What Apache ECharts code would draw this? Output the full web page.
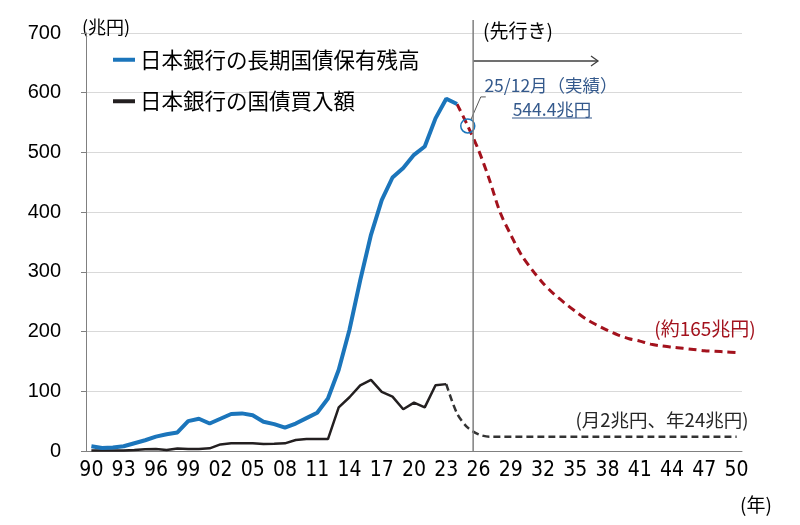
<!DOCTYPE html>
<html>
<head>
<meta charset="utf-8">
<script src="https://cdn.jsdelivr.net/npm/echarts@6/dist/echarts.min.js"></script>
<style>
html, body { margin: 0; padding: 0; background: #fff; }
#main { width: 800px; height: 525px; }
</style>
</head>
<body>
<div id="main"></div>
<script>
// categories: 1990 - 2050 (年)
var years = [];
for (var y = 1990; y <= 2050; y++) years.push(String(y));

// 日本銀行の長期国債保有残高 (兆円), 実績 1990 - 2024
var holdActual = [8, 5, 6, 8, 13, 18, 24, 28, 31, 50,
    54, 46, 54, 62, 63, 60, 49, 45, 39, 46,
    55, 64, 88, 136, 203, 286, 362, 420, 458, 474,
    496, 510, 557, 590, 581];
// 見通し 2024 - 2050
var holdForecast = [581, 544.4, 504, 455, 400, 362, 328, 303, 281, 263,
    248, 234, 221, 211, 202, 194, 188, 184, 179, 176,
    174, 172, 170, 168, 167, 166, 165];

// 日本銀行の国債買入額 (兆円), 実績 1990 - 2023
var buyActual = [1, 1, 1, 1, 1.5, 3, 3.4, 1.7, 4, 3.5,
    3.5, 4.5, 11, 12.8, 12.8, 12.8, 11.7, 12, 12.8, 18.4,
    20, 20, 20, 73, 90, 110, 119, 99, 91, 70,
    81, 73, 110, 112];
// 見通し 2023 - 2050 (月2兆円、年24兆円)
var buyForecast = [112, 63, 39, 28, 24, 24, 24, 24, 24, 24,
    24, 24, 24, 24, 24, 24, 24, 24, 24, 24,
    24, 24, 24, 24, 24, 24, 24, 24];

var holdForecastStart = '2024';
var buyForecastStart = '2023';
var markYear = '2025';
var markValue = 544.4;

var yTicks = [0, 100, 200, 300, 400, 500, 600, 700];

function toPairs(values, startYear) {
    var off = years.indexOf(startYear);
    return values.map(function (v, i) { return [off + i, v]; });
}

var numFont = "'Liberation Sans Narrow', 'DejaVu Sans Condensed', sans-serif";
var jpFont = "'Noto Sans CJK JP', sans-serif";

var chart = echarts.init(document.getElementById('main'));

var option = {
    animation: false,
    grid: {
        left: 86,
        right: 58,
        top: 33,
        bottom: 74,
        containLabel: false,
        outerBoundsMode: 'none'
    },
    legend: {
        data: ['日本銀行の長期国債保有残高', '日本銀行の国債買入額'],
        orient: 'vertical',
        left: 113,
        top: 49,
        padding: 0,
        itemWidth: 22,
        itemHeight: 4,
        itemGap: 20,
        icon: 'rect',
        selectedMode: false,
        textStyle: {
            fontFamily: jpFont,
            fontSize: 21.5,
            color: '#000'
        }
    },
    xAxis: {
        type: 'category',
        data: years,
        boundaryGap: true,
        axisLine: { lineStyle: { color: '#808080', width: 1 } },
        axisTick: {
            interval: 2,
            length: 6,
            alignWithLabel: false,
            lineStyle: { color: '#808080' }
        },
        axisLabel: {
            interval: 2,
            margin: 9,
            color: '#000',
            fontSize: 21,
            fontFamily: numFont,
            formatter: function (v) { return v.slice(2); }
        },
        splitLine: { show: false }
    },
    yAxis: {
        type: 'value',
        min: yTicks[0],
        max: yTicks[yTicks.length - 1],
        interval: 100,
        axisLine: { show: true, lineStyle: { color: '#808080', width: 1 } },
        axisTick: { show: true, length: 5, lineStyle: { color: '#808080' } },
        axisLabel: {
            margin: 25,
            color: '#000',
            fontSize: 20,
            fontFamily: "'Liberation Sans', sans-serif"
        },
        splitLine: { lineStyle: { color: '#d9d9d9', width: 1 } }
    },
    series: [{
        name: '日本銀行の国債買入額',
        type: 'line',
        data: toPairs(buyActual, '1990'),
        symbol: 'none',
        color: '#231f20',
        lineStyle: { color: '#231f20', width: 2.5 },
        z: 3
    }, {
        name: '買入額見通し',
        type: 'line',
        data: toPairs(buyForecast, buyForecastStart),
        symbol: 'none',
        smooth: 0.3,
        lineStyle: { color: '#333', width: 2.5, type: [7, 4] },
        z: 2
    }, {
        name: '保有残高見通し',
        type: 'line',
        data: toPairs(holdForecast, holdForecastStart),
        symbol: 'none',
        smooth: 0.3,
        lineStyle: { color: '#a3121d', width: 3, type: [8, 5] },
        z: 4,
        markPoint: {
            symbol: 'circle',
            symbolSize: 14,
            silent: true,
            label: { show: false },
            itemStyle: { color: 'rgba(0,0,0,0)', borderColor: '#1b75bb', borderWidth: 1.5 },
            data: [{ coord: [years.indexOf(markYear), markValue] }]
        }
    }, {
        name: '日本銀行の長期国債保有残高',
        type: 'line',
        data: toPairs(holdActual, '1990'),
        symbol: 'none',
        color: '#1b75bb',
        lineStyle: { color: '#1b75bb', width: 4 },
        z: 5
    }]
};

chart.setOption(option);

// annotations placed from the axes
var iMark = years.indexOf(markYear);
var pMark = chart.convertToPixel({ xAxisIndex: 0, yAxisIndex: 0 }, [iMark, markValue]);
var pA = chart.convertToPixel({ xAxisIndex: 0, yAxisIndex: 0 }, [iMark, 0]);
var pB = chart.convertToPixel({ xAxisIndex: 0, yAxisIndex: 0 }, [iMark + 1, 0]);
var xSplit = (pA[0] + pB[0]) / 2;
var yBase = pA[1];
var blueText = '#34598c';

chart.setOption({
    graphic: [{
        type: 'line',
        shape: { x1: xSplit, y1: 20, x2: xSplit, y2: yBase },
        style: { stroke: '#7f7f7f', lineWidth: 1.5 },
        z: 10
    }, {
        type: 'line',
        shape: { x1: xSplit, y1: 61, x2: 598, y2: 61 },
        style: { stroke: '#404040', lineWidth: 1.3 }
    }, {
        type: 'polyline',
        shape: { points: [[591, 56], [598, 61], [591, 66]] },
        style: { stroke: '#404040', lineWidth: 1.3, fill: null }
    }, {
        type: 'text',
        left: 483, top: 21,
        style: { text: '(先行き)', font: '19px ' + jpFont, fill: '#000' }
    }, {
        type: 'polyline',
        shape: { points: [[pMark[0] + 3, pMark[1] - 6], [pMark[0] + 13, pMark[1] - 29], [pMark[0] + 18, pMark[1] - 29]] },
        style: { stroke: '#595959', lineWidth: 1, fill: null }
    }, {
        type: 'text',
        x: 551, y: 85,
        style: { text: '25/12月（実績）', font: '17.5px ' + jpFont, fill: blueText, align: 'center', verticalAlign: 'middle' }
    }, {
        type: 'text',
        x: 552, y: 109,
        style: { text: '544.4兆円', font: '17.5px ' + jpFont, fill: blueText, align: 'center', verticalAlign: 'middle' }
    }, {
        type: 'line',
        shape: { x1: 512, y1: 118, x2: 592, y2: 118 },
        style: { stroke: blueText, lineWidth: 1.2 }
    }, {
        type: 'text',
        x: 705, y: 329,
        style: { text: '(約165兆円)', font: '19px ' + jpFont, fill: '#a3121d', align: 'center', verticalAlign: 'middle' }
    }, {
        type: 'text',
        x: 662, y: 420,
        style: { text: '(月2兆円、年24兆円)', font: '18.5px ' + jpFont, fill: '#262626', align: 'center', verticalAlign: 'middle' }
    }, {
        type: 'text',
        x: 106, y: 27,
        style: { text: '(兆円)', font: '18px ' + jpFont, fill: '#000', align: 'center', verticalAlign: 'middle' }
    }, {
        type: 'text',
        x: 756, y: 505,
        style: { text: '(年)', font: '19px ' + jpFont, fill: '#000', align: 'center', verticalAlign: 'middle' }
    }]
});
</script>
</body>
</html>
